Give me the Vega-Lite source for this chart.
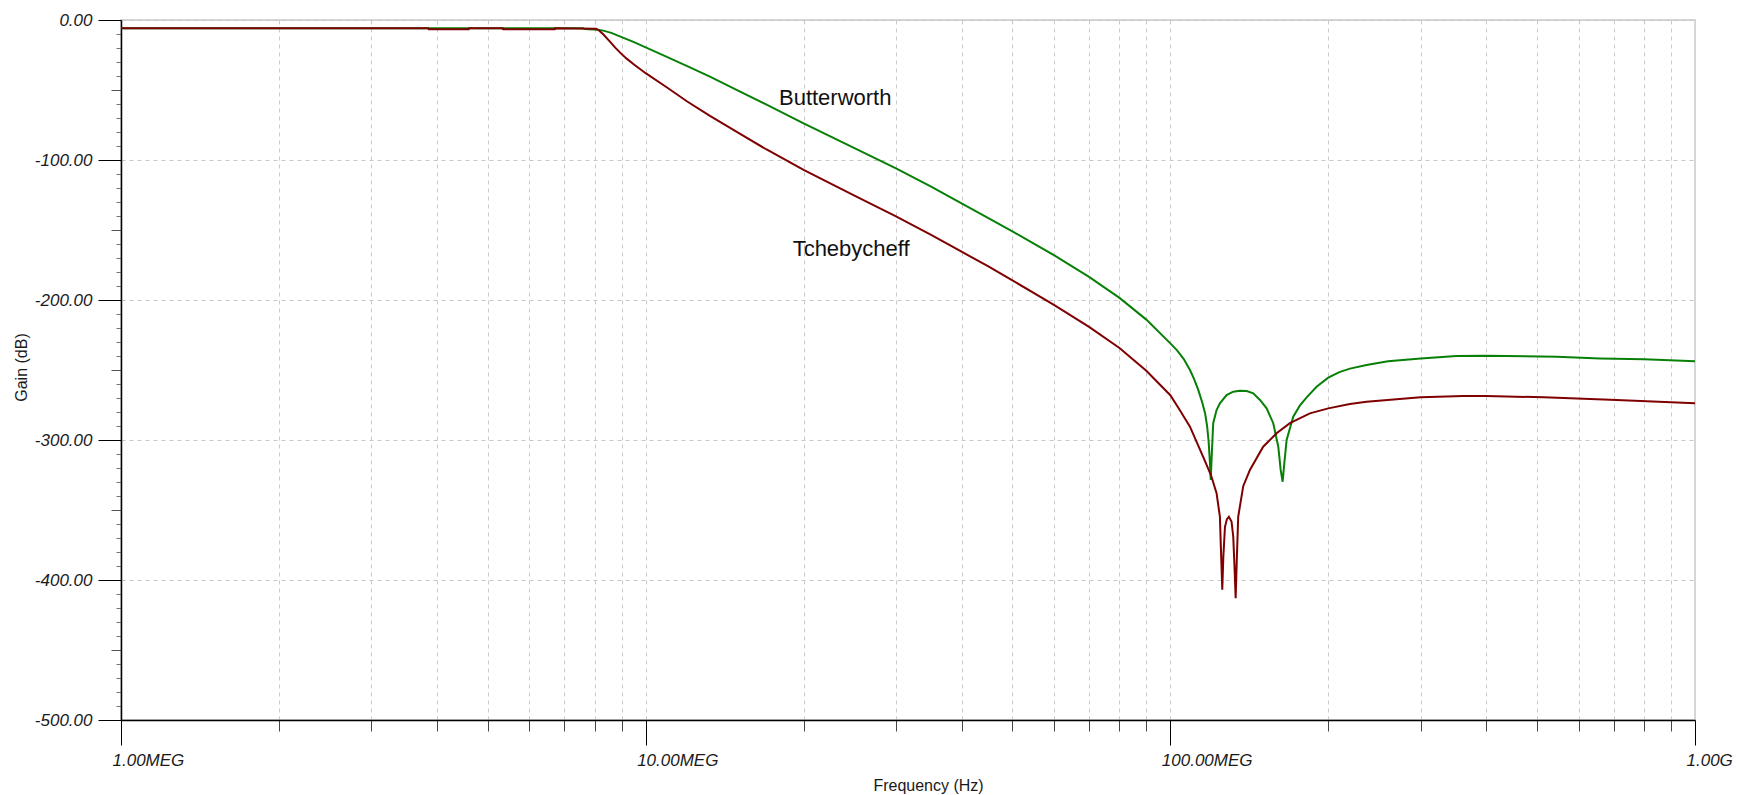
{
  "$schema": "https://vega.github.io/schema/vega-lite/v6.json",
  "width": 1574,
  "height": 700,
  "autosize": {"type": "none"},
  "padding": {"left": 121, "top": 20, "right": 42, "bottom": 75},
  "background": "white",
  "config": {
    "font": "Liberation Sans",
    "view": {"stroke": "#d6d6d6", "strokeWidth": 2},
    "axis": {
      "labelFont": "Liberation Sans",
      "titleFont": "Liberation Sans",
      "labelColor": "#1a1a1a",
      "titleColor": "#1a1a1a",
      "titleFontWeight": "normal",
      "gridColor": "#c8c8c8",
      "gridDash": [4, 4],
      "gridWidth": 1,
      "tickWidth": 1
    }
  },
  "datasets": {
    "curves": [
      {"filter": "Butterworth", "f": 1e6, "g": -5.9},
      {"filter": "Butterworth", "f": 7.6e6, "g": -5.9},
      {"filter": "Butterworth", "f": 7.65e6, "g": -6.5},
      {"filter": "Butterworth", "f": 8.1e6, "g": -6.9},
      {"filter": "Butterworth", "f": 8.3e6, "g": -7.6},
      {"filter": "Butterworth", "f": 8.6e6, "g": -9.2},
      {"filter": "Butterworth", "f": 9.0e6, "g": -12.2},
      {"filter": "Butterworth", "f": 9.5e6, "g": -15.8},
      {"filter": "Butterworth", "f": 10e6, "g": -19.5},
      {"filter": "Butterworth", "f": 11e6, "g": -26.5},
      {"filter": "Butterworth", "f": 12e6, "g": -33},
      {"filter": "Butterworth", "f": 13.26e6, "g": -40.5},
      {"filter": "Butterworth", "f": 15e6, "g": -50.5},
      {"filter": "Butterworth", "f": 17e6, "g": -60.5},
      {"filter": "Butterworth", "f": 20e6, "g": -73.8},
      {"filter": "Butterworth", "f": 25e6, "g": -91.5},
      {"filter": "Butterworth", "f": 30e6, "g": -106},
      {"filter": "Butterworth", "f": 35e6, "g": -119},
      {"filter": "Butterworth", "f": 40e6, "g": -131},
      {"filter": "Butterworth", "f": 45e6, "g": -141.5},
      {"filter": "Butterworth", "f": 50e6, "g": -151},
      {"filter": "Butterworth", "f": 60e6, "g": -168},
      {"filter": "Butterworth", "f": 70e6, "g": -183.5},
      {"filter": "Butterworth", "f": 80e6, "g": -198.5},
      {"filter": "Butterworth", "f": 90e6, "g": -214},
      {"filter": "Butterworth", "f": 100e6, "g": -231},
      {"filter": "Butterworth", "f": 103e6, "g": -236},
      {"filter": "Butterworth", "f": 106e6, "g": -242},
      {"filter": "Butterworth", "f": 109e6, "g": -250},
      {"filter": "Butterworth", "f": 111e6, "g": -256.5},
      {"filter": "Butterworth", "f": 113e6, "g": -264},
      {"filter": "Butterworth", "f": 115e6, "g": -273},
      {"filter": "Butterworth", "f": 116.5e6, "g": -281},
      {"filter": "Butterworth", "f": 117.5e6, "g": -290},
      {"filter": "Butterworth", "f": 118.3e6, "g": -301},
      {"filter": "Butterworth", "f": 119.0e6, "g": -316.7},
      {"filter": "Butterworth", "f": 119.4e6, "g": -328.6},
      {"filter": "Butterworth", "f": 119.9e6, "g": -312},
      {"filter": "Butterworth", "f": 120.7e6, "g": -288},
      {"filter": "Butterworth", "f": 122.5e6, "g": -278.6},
      {"filter": "Butterworth", "f": 124.3e6, "g": -273.8},
      {"filter": "Butterworth", "f": 128.0e6, "g": -267.9},
      {"filter": "Butterworth", "f": 131.8e6, "g": -265.5},
      {"filter": "Butterworth", "f": 135.7e6, "g": -264.8},
      {"filter": "Butterworth", "f": 139.8e6, "g": -265},
      {"filter": "Butterworth", "f": 143.9e6, "g": -266.7},
      {"filter": "Butterworth", "f": 148.2e6, "g": -271.4},
      {"filter": "Butterworth", "f": 152.6e6, "g": -277.4},
      {"filter": "Butterworth", "f": 157.1e6, "g": -288},
      {"filter": "Butterworth", "f": 160.6e6, "g": -304.8},
      {"filter": "Butterworth", "f": 162.3e6, "g": -321.4},
      {"filter": "Butterworth", "f": 163.7e6, "g": -329.8},
      {"filter": "Butterworth", "f": 164.9e6, "g": -316.7},
      {"filter": "Butterworth", "f": 166.6e6, "g": -300},
      {"filter": "Butterworth", "f": 171.5e6, "g": -283.3},
      {"filter": "Butterworth", "f": 176.5e6, "g": -275.5},
      {"filter": "Butterworth", "f": 181.9e6, "g": -269.5},
      {"filter": "Butterworth", "f": 190e6, "g": -262},
      {"filter": "Butterworth", "f": 200e6, "g": -255.5},
      {"filter": "Butterworth", "f": 210e6, "g": -251.5},
      {"filter": "Butterworth", "f": 220e6, "g": -249},
      {"filter": "Butterworth", "f": 236.6e6, "g": -246.4},
      {"filter": "Butterworth", "f": 260e6, "g": -243.8},
      {"filter": "Butterworth", "f": 300e6, "g": -241.7},
      {"filter": "Butterworth", "f": 351e6, "g": -240},
      {"filter": "Butterworth", "f": 400e6, "g": -239.8},
      {"filter": "Butterworth", "f": 545e6, "g": -240.5},
      {"filter": "Butterworth", "f": 659e6, "g": -241.7},
      {"filter": "Butterworth", "f": 800e6, "g": -242.4},
      {"filter": "Butterworth", "f": 1000e6, "g": -243.8},

      {"filter": "Tchebycheff", "f": 1e6, "g": -5.9},
      {"filter": "Tchebycheff", "f": 3.85e6, "g": -5.9},
      {"filter": "Tchebycheff", "f": 3.86e6, "g": -6.6},
      {"filter": "Tchebycheff", "f": 4.6e6, "g": -6.6},
      {"filter": "Tchebycheff", "f": 4.61e6, "g": -5.9},
      {"filter": "Tchebycheff", "f": 5.34e6, "g": -5.9},
      {"filter": "Tchebycheff", "f": 5.35e6, "g": -6.6},
      {"filter": "Tchebycheff", "f": 6.71e6, "g": -6.6},
      {"filter": "Tchebycheff", "f": 6.72e6, "g": -5.9},
      {"filter": "Tchebycheff", "f": 8.05e6, "g": -6.2},
      {"filter": "Tchebycheff", "f": 8.15e6, "g": -7.5},
      {"filter": "Tchebycheff", "f": 8.3e6, "g": -10.2},
      {"filter": "Tchebycheff", "f": 8.55e6, "g": -15.5},
      {"filter": "Tchebycheff", "f": 8.75e6, "g": -19.7},
      {"filter": "Tchebycheff", "f": 8.95e6, "g": -23.5},
      {"filter": "Tchebycheff", "f": 9.2e6, "g": -27.6},
      {"filter": "Tchebycheff", "f": 9.5e6, "g": -31.8},
      {"filter": "Tchebycheff", "f": 10e6, "g": -38},
      {"filter": "Tchebycheff", "f": 11e6, "g": -48.4},
      {"filter": "Tchebycheff", "f": 12e6, "g": -58.2},
      {"filter": "Tchebycheff", "f": 13.26e6, "g": -68.5},
      {"filter": "Tchebycheff", "f": 15e6, "g": -80.5},
      {"filter": "Tchebycheff", "f": 17e6, "g": -92.5},
      {"filter": "Tchebycheff", "f": 20e6, "g": -107},
      {"filter": "Tchebycheff", "f": 25e6, "g": -125.5},
      {"filter": "Tchebycheff", "f": 30e6, "g": -140.3},
      {"filter": "Tchebycheff", "f": 35e6, "g": -153.5},
      {"filter": "Tchebycheff", "f": 40e6, "g": -165.5},
      {"filter": "Tchebycheff", "f": 45e6, "g": -176},
      {"filter": "Tchebycheff", "f": 50e6, "g": -186},
      {"filter": "Tchebycheff", "f": 60e6, "g": -203.5},
      {"filter": "Tchebycheff", "f": 70e6, "g": -219.2},
      {"filter": "Tchebycheff", "f": 80e6, "g": -234.3},
      {"filter": "Tchebycheff", "f": 90e6, "g": -250.5},
      {"filter": "Tchebycheff", "f": 100e6, "g": -268},
      {"filter": "Tchebycheff", "f": 104e6, "g": -278},
      {"filter": "Tchebycheff", "f": 109e6, "g": -290.5},
      {"filter": "Tchebycheff", "f": 115.5e6, "g": -312},
      {"filter": "Tchebycheff", "f": 119.5e6, "g": -325},
      {"filter": "Tchebycheff", "f": 122.5e6, "g": -338},
      {"filter": "Tchebycheff", "f": 124.3e6, "g": -354.8},
      {"filter": "Tchebycheff", "f": 125.0e6, "g": -383.3},
      {"filter": "Tchebycheff", "f": 125.6e6, "g": -407},
      {"filter": "Tchebycheff", "f": 126.2e6, "g": -383},
      {"filter": "Tchebycheff", "f": 127.1e6, "g": -362},
      {"filter": "Tchebycheff", "f": 128.2e6, "g": -356.5},
      {"filter": "Tchebycheff", "f": 129.3e6, "g": -354.8},
      {"filter": "Tchebycheff", "f": 130.8e6, "g": -358.3},
      {"filter": "Tchebycheff", "f": 131.8e6, "g": -369},
      {"filter": "Tchebycheff", "f": 132.6e6, "g": -392.9},
      {"filter": "Tchebycheff", "f": 133.2e6, "g": -413},
      {"filter": "Tchebycheff", "f": 133.8e6, "g": -388},
      {"filter": "Tchebycheff", "f": 134.7e6, "g": -354.8},
      {"filter": "Tchebycheff", "f": 137.7e6, "g": -333},
      {"filter": "Tchebycheff", "f": 141.8e6, "g": -321.4},
      {"filter": "Tchebycheff", "f": 150.3e6, "g": -304.8},
      {"filter": "Tchebycheff", "f": 159.4e6, "g": -295.2},
      {"filter": "Tchebycheff", "f": 169.0e6, "g": -288},
      {"filter": "Tchebycheff", "f": 184.5e6, "g": -281},
      {"filter": "Tchebycheff", "f": 200e6, "g": -277.4},
      {"filter": "Tchebycheff", "f": 219.9e6, "g": -274.3},
      {"filter": "Tchebycheff", "f": 236.6e6, "g": -272.6},
      {"filter": "Tchebycheff", "f": 300e6, "g": -269.5},
      {"filter": "Tchebycheff", "f": 361.6e6, "g": -268.6},
      {"filter": "Tchebycheff", "f": 400e6, "g": -268.6},
      {"filter": "Tchebycheff", "f": 515e6, "g": -269.5},
      {"filter": "Tchebycheff", "f": 708.9e6, "g": -271.4},
      {"filter": "Tchebycheff", "f": 1000e6, "g": -273.8}
    ],
    "labels": [
      {"filter": "Butterworth", "f": 17.95e6, "g": -60.5},
      {"filter": "Tchebycheff", "f": 19.06e6, "g": -168.7}
    ]
  },
  "layer": [
    {
      "description": "Minor decade ticks with the dashed vertical grid, plus the 50 dB ticks",
      "data": {"name": "curves"},
      "mark": {"type": "line", "opacity": 0},
      "encoding": {
        "x": {
          "field": "f", "type": "quantitative",
          "scale": {"type": "log", "domain": [1e6, 1e9], "nice": false, "zero": false},
          "axis": {
            "orient": "bottom",
            "values": [2e6, 3e6, 4e6, 5e6, 6e6, 7e6, 8e6, 9e6, 1e7, 2e7, 3e7, 4e7, 5e7, 6e7, 7e7, 8e7, 9e7, 1e8, 2e8, 3e8, 4e8, 5e8, 6e8, 7e8, 8e8, 9e8],
            "tickSize": 11, "tickColor": "#444", "labels": false, "title": null,
            "domain": false, "grid": true
          }
        },
        "y": {
          "field": "g", "type": "quantitative",
          "scale": {"domain": [-500, 0], "nice": false, "zero": false},
          "axis": {
            "orient": "left",
            "values": [-450, -350, -250, -150, -50],
            "tickSize": 10, "tickColor": "#555", "labels": false, "title": null,
            "domain": false, "grid": false
          }
        }
      }
    },
    {
      "description": "10 dB minor ticks on the gain axis",
      "data": {"name": "curves"},
      "mark": {"type": "line", "opacity": 0},
      "encoding": {
        "x": {
          "field": "f", "type": "quantitative",
          "scale": {"type": "log", "domain": [1e6, 1e9], "nice": false, "zero": false},
          "axis": null
        },
        "y": {
          "field": "g", "type": "quantitative",
          "scale": {"domain": [-500, 0], "nice": false, "zero": false},
          "axis": {
            "orient": "left",
            "values": [-490, -480, -470, -460, -440, -430, -420, -410, -390, -380, -370, -360, -340, -330, -320, -310, -290, -280, -270, -260, -240, -230, -220, -210, -190, -180, -170, -160, -140, -130, -120, -110, -90, -80, -70, -60, -40, -30, -20, -10],
            "tickSize": 5, "tickColor": "#777", "labels": false, "title": null,
            "domain": false, "grid": false
          }
        }
      }
    },
    {
      "description": "Filter responses with the labelled decade and 100 dB axes",
      "data": {"name": "curves"},
      "mark": {"type": "line", "strokeWidth": 2, "interpolate": "linear"},
      "encoding": {
        "x": {
          "field": "f", "type": "quantitative",
          "scale": {"type": "log", "domain": [1e6, 1e9], "nice": false, "zero": false},
          "axis": {
            "orient": "bottom",
            "values": [1e6, 1e7, 1e8, 1e9],
            "tickSize": 25, "tickColor": "#000",
            "domain": true, "domainColor": "#000", "domainWidth": 1.5,
            "grid": false,
            "labelExpr": "datum.value >= 1e9 ? format(datum.value / 1e9, '.2f') + 'G' : format(datum.value / 1e6, '.2f') + 'MEG'",
            "labelFontSize": 17, "labelFontStyle": "italic",
            "labelAlign": "left", "labelBaseline": "alphabetic",
            "labelOffset": -9, "labelPadding": 20,
            "labelFlush": false, "labelOverlap": false, "labelBound": false,
            "title": "Frequency (Hz)", "titleFontSize": 16,
            "titleX": 807, "titleY": 70, "titleAlign": "center", "titleBaseline": "alphabetic"
          }
        },
        "y": {
          "field": "g", "type": "quantitative",
          "scale": {"domain": [-500, 0], "nice": false, "zero": false},
          "axis": {
            "orient": "left",
            "values": [-500, -400, -300, -200, -100, 0],
            "tickSize": 23, "tickColor": "#000",
            "domain": true, "domainColor": "#000", "domainWidth": 1.5,
            "grid": true,
            "labelExpr": "(datum.value < 0 ? '-' : '') + format(abs(datum.value), '.2f')",
            "labelFontSize": 17, "labelFontStyle": "italic",
            "labelAlign": "right", "labelBaseline": "middle", "labelPadding": 6,
            "labelFlush": false, "labelOverlap": false, "labelBound": false,
            "title": "Gain (dB)", "titleFontSize": 16,
            "titleX": -100, "titleY": 347, "titleAngle": -90,
            "titleAlign": "center", "titleBaseline": "middle"
          }
        },
        "color": {
          "field": "filter", "type": "nominal",
          "scale": {"domain": ["Butterworth", "Tchebycheff"], "range": ["#088008", "#7f0000"]},
          "legend": null
        }
      }
    },
    {
      "description": "Curve names",
      "data": {"name": "labels"},
      "mark": {"type": "text", "align": "left", "baseline": "alphabetic", "fontSize": 22, "font": "Liberation Sans", "color": "#111"},
      "encoding": {
        "x": {
          "field": "f", "type": "quantitative",
          "scale": {"type": "log", "domain": [1e6, 1e9], "nice": false, "zero": false},
          "axis": null
        },
        "y": {
          "field": "g", "type": "quantitative",
          "scale": {"domain": [-500, 0], "nice": false, "zero": false},
          "axis": null
        },
        "text": {"field": "filter", "type": "nominal"}
      }
    }
  ],
  "resolve": {"axis": {"x": "independent", "y": "independent"}}
}
